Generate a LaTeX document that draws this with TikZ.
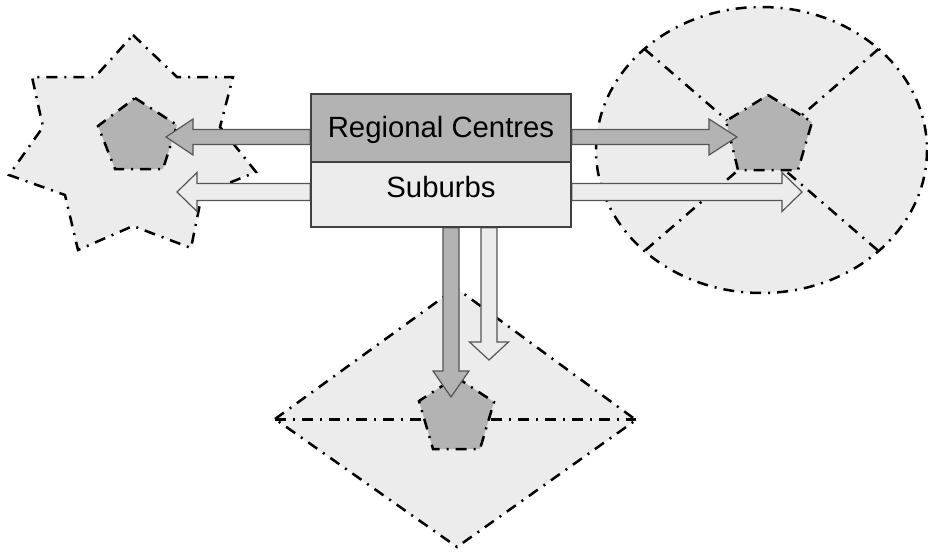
\documentclass[tikz,border=0pt]{standalone}
\usepackage{fontspec}
\setmainfont{Liberation Sans}
\usetikzlibrary{calc}

\definecolor{paleGray}{HTML}{ECECEC}
\definecolor{midGray}{HTML}{B3B3B3}
\definecolor{edgeGray}{HTML}{404040}
\definecolor{arrowEdge}{HTML}{555555}

\pgfdeclarelayer{regions}
\pgfdeclarelayer{flows}
\pgfsetlayers{regions,flows,main}

\tikzset{
  dashdot/.style={draw=black, line width=2.5pt,
    dash pattern=on 11pt off 7pt on 2pt off 7pt},
  region/.style={dashdot, fill=paleGray, line join=miter},
  hub/.style={dashdot, fill=midGray, line join=miter},
  darkflow/.style={draw=arrowEdge, line width=1.2pt, fill=midGray, line join=miter},
  lightflow/.style={draw=arrowEdge, line width=1.2pt, fill=paleGray, line join=miter},
  tierbox/.style={draw=edgeGray, line width=1.5pt, rectangle, inner sep=0pt,
    minimum width=260pt},
  tiertext/.style={font=\fontsize{29.3}{35}\selectfont, anchor=base, inner sep=0pt},
}

% block arrow: style, start, tip, half shaft width, half head width, head length
\newcommand\blockarrow[6]{%
  \draw[#1] let \p1=(#2), \p2=(#3),
      \n1={atan2(\y2-\y1,\x2-\x1)},
      \n2={veclen(\x2-\x1,\y2-\y1)-#6} in
    ($(\p1)+(\n1+90:#4)$) -- ($(\p1)+(\n1:\n2)+(\n1+90:#4)$)
    -- ($(\p1)+(\n1:\n2)+(\n1+90:#5)$) -- (\p2)
    -- ($(\p1)+(\n1:\n2)+(\n1-90:#5)$) -- ($(\p1)+(\n1:\n2)+(\n1-90:#4)$)
    -- ($(\p1)+(\n1-90:#4)$) -- cycle;}

\begin{document}
\begin{tikzpicture}[x=1pt, y=-1pt]
\useasboundingbox (0,0) rectangle (928,551);

% the two tiers of the central box
\node[tierbox, fill=midGray, minimum height=68pt] (centres) at (441,128) {};
\node[tierbox, fill=paleGray, minimum height=65pt] (suburbs) at (441,194.5) {};
\node[tiertext] (centresLabel) at (441,137) {Regional Centres};
\node[tiertext] (suburbsLabel) at (441,197) {Suburbs};

\begin{pgfonlayer}{regions}
  % seven-pointed star region
  \draw[region] (133,35) -- (177,77) -- (233,77) -- (220,127) -- (256,172)
    -- (202,194) -- (191,248) -- (133,226) -- (78,250) -- (65,195) -- (9,175)
    -- (43,127) -- (32,77) -- (95,77) -- cycle;
  % round region split by a cross
  \draw[region] (761.5,150) ellipse [x radius=165.5, y radius=143];
  \draw[dashdot] (644.5,49) -- (878.5,251);
  \draw[dashdot] (878.5,49) -- (644.5,251);
  % diamond region split horizontally
  \draw[region] (275,419) -- (456,288) -- (636,420) -- (457,547) -- cycle;
  \draw[dashdot] (275,419.5) -- (636,419.5);
  % hubs
  \draw[hub] (135,98) -- (177,125) -- (163,169) -- (115,169) -- (98,126) -- cycle;
  \draw[hub] (768,95) -- (812,122) -- (798,170) -- (738,170) -- (726,121) -- cycle;
  \draw[hub] (456,377) -- (494,402) -- (480,449) -- (433,449) -- (419,401) -- cycle;
\end{pgfonlayer}

% arrow tips
\coordinate (tipW1) at (166,137);
\coordinate (tipW2) at (177,192);
\coordinate (tipE1) at (737,137);
\coordinate (tipE2) at (802,192);
\coordinate (tipS1) at (451,397);
\coordinate (tipS2) at (489,360);

\begin{pgfonlayer}{flows}
  \blockarrow{darkflow}{centres.west |- tipW1}{tipW1}{7.5pt}{18pt}{27pt}
  \blockarrow{lightflow}{suburbs.west |- tipW2}{tipW2}{8.5pt}{19.5pt}{20pt}
  \blockarrow{darkflow}{centres.east |- tipE1}{tipE1}{7.5pt}{18pt}{28pt}
  \blockarrow{lightflow}{suburbs.east |- tipE2}{tipE2}{8.5pt}{19.5pt}{20pt}
  \blockarrow{darkflow}{suburbs.south -| tipS1}{tipS1}{8pt}{18pt}{26pt}
  \blockarrow{lightflow}{suburbs.south -| tipS2}{tipS2}{8pt}{19.5pt}{18pt}
\end{pgfonlayer}
\end{tikzpicture}
\end{document}
